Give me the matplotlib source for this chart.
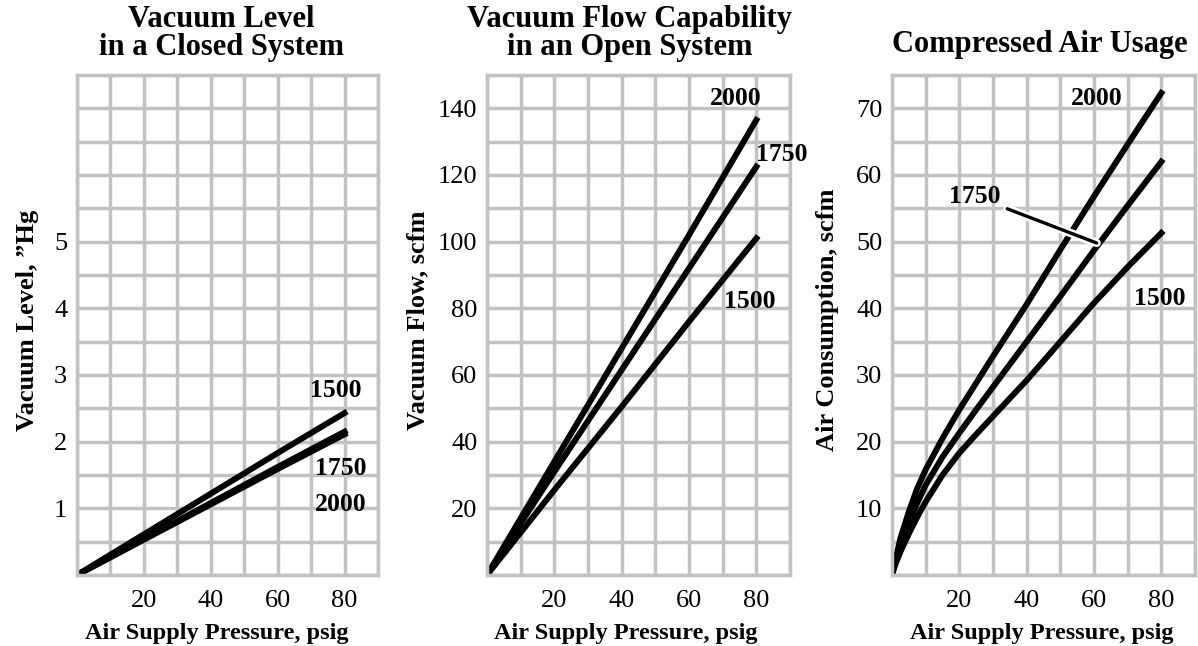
import numpy as np
import matplotlib
matplotlib.use("Agg")
from matplotlib import pyplot as plt
import matplotlib.patheffects as pe

plt.rcParams['font.family'] = ['Liberation Serif', 'DejaVu Serif']

# x values (air supply pressure, psig)
p_lin = [0, 20, 40, 60, 80]
p_curve = [0, 1, 2.5, 5, 7.5, 10, 15, 20, 25, 30, 35, 40, 50, 60, 70, 80]

# closed system vacuum level, "Hg
vac_1500 = [0, 0.61, 1.22, 1.83, 2.43]
vac_1750 = [0, 0.54, 1.08, 1.62, 2.15]
vac_2000 = [0, 0.53, 1.06, 1.59, 2.11]

# open system vacuum flow, scfm
flow_1500 = [0, 25.5, 50.5, 76, 101]
flow_1750 = [0, 31, 61.5, 92, 122.5]
flow_2000 = [0, 34, 68, 102, 136.5]

# compressed air consumption, scfm
air_1500 = [0, 1.6, 3.5, 6.2, 8.7, 11, 15, 18.3, 21.1, 23.8, 26.5, 29.2, 35, 40.8, 46.2, 51.3]
air_1750 = [0, 2.0, 4.6, 7.8, 10.8, 13.5, 17.7, 21.3, 24.8, 28.2, 31.6, 35, 41.8, 48.7, 55.4, 62]
air_2000 = [0, 2.2, 5.5, 9.5, 13, 15.8, 20.5, 24.8, 28.8, 32.8, 36.7, 40.6, 48.8, 56.8, 64.6, 72.3]

x_ticks = [20, 40, 60, 80]
vac_ticks = [1, 2, 3, 4, 5]
flow_ticks = [20, 40, 60, 80, 100, 120, 140]
air_ticks = [10, 20, 30, 40, 50, 60, 70]

W, H = 1198, 646
fig = plt.figure(figsize=(W / 100, H / 100), dpi=100)

grid_col = '#c2c2c2'
tick_fs = 19
lab_fs = 19
xlab_fs = 17.5
curve_fs = 18.5
title_fs = 22


def px_axes(left, right, top=75, bottom=575):
    return fig.add_axes([left / W, 1 - bottom / H, (right - left) / W, (bottom - top) / H])


def setup(ax, ymax, ystep, yticks, ylabel, ylab_x, xlab_x):
    ax.set_xlim(0, 90)
    ax.set_ylim(0, ymax)
    ax.set_xticks(np.arange(0, 91, 10), minor=True)
    ax.set_yticks(np.arange(0, ymax + 0.01, ystep), minor=True)
    ax.set_xticks(x_ticks)
    ax.set_yticks(yticks)
    ax.set_xticklabels([str(v) for v in x_ticks], fontsize=tick_fs)
    ax.set_yticklabels([str(v) for v in yticks], fontsize=tick_fs)
    ax.tick_params(which='both', length=0)
    ax.tick_params(axis='x', pad=11)
    ax.tick_params(axis='y', pad=7)
    ax.grid(True, which='both', color=grid_col, linewidth=2.5)
    ax.set_axisbelow(True)
    for s in ax.spines.values():
        s.set_color(grid_col)
        s.set_linewidth(2.5)
    ax.set_xlabel('Air Supply Pressure, psig', fontsize=xlab_fs, fontweight='bold', va='center')
    ax.xaxis.set_label_coords(xlab_x, -0.116)
    ax.set_ylabel(ylabel, fontsize=lab_fs, fontweight='bold', va='center')
    ax.yaxis.set_label_coords(ylab_x, 0.51)


lw = 4.3

# --- panel 1: closed system ---
ax1 = px_axes(77, 378)
setup(ax1, 7.5, 0.5, vac_ticks, 'Vacuum Level, \u201dHg', -0.165, 0.465)
ax1.plot(p_lin, vac_2000, 'k-', lw=lw)
ax1.plot(p_lin, vac_1750, 'k-', lw=lw)
ax1.plot(p_lin, vac_1500, 'k-', lw=lw)
ax1.text(77.3, 2.77, '1500', fontsize=curve_fs, fontweight='bold', ha='center', va='center')
ax1.text(78.8, 1.59, '1750', fontsize=curve_fs, fontweight='bold', ha='center', va='center')
ax1.text(78.8, 1.05, '2000', fontsize=curve_fs, fontweight='bold', ha='center', va='center')
ax1.text(0.48, 1.083, 'Vacuum Level\nin a Closed System', transform=ax1.transAxes,
         fontsize=title_fs, fontweight='bold', ha='center', va='center', linespacing=0.92)

# --- panel 2: open system ---
ax2 = px_axes(487, 790)
setup(ax2, 150, 10, flow_ticks, 'Vacuum Flow, scfm', -0.228, 0.459)
ax2.plot(p_lin, flow_2000, 'k-', lw=lw)
ax2.plot(p_lin, flow_1750, 'k-', lw=lw)
ax2.plot(p_lin, flow_1500, 'k-', lw=lw)
ax2.text(73.9, 143, '2000', fontsize=curve_fs, fontweight='bold', ha='center', va='center')
ax2.text(87.5, 126, '1750', fontsize=curve_fs, fontweight='bold', ha='center', va='center',
         clip_on=False)
ax2.text(78, 82, '1500', fontsize=curve_fs, fontweight='bold', ha='center', va='center')
ax2.text(0.47, 1.083, 'Vacuum Flow Capability\nin an Open System', transform=ax2.transAxes,
         fontsize=title_fs, fontweight='bold', ha='center', va='center', linespacing=0.92)

# --- panel 3: air usage ---
ax3 = px_axes(892, 1195)
setup(ax3, 75, 5, air_ticks, 'Air Consumption, scfm', -0.212, 0.495)
ax3.plot(p_curve, air_2000, 'k-', lw=lw)
ax3.plot(p_curve, air_1750, 'k-', lw=lw)
ax3.plot(p_curve, air_1500, 'k-', lw=lw)
ax3.text(60.8, 71.5, '2000', fontsize=curve_fs, fontweight='bold', ha='center', va='center')
ax3.text(79.5, 41.5, '1500', fontsize=curve_fs, fontweight='bold', ha='center', va='center')
ann = ax3.annotate('1750', xy=(60.8, 49.8), xytext=(24.6, 56.8),
                   fontsize=curve_fs, fontweight='bold', ha='center', va='center',
                   arrowprops=dict(arrowstyle='-', color='k', lw=2.4, shrinkA=3, shrinkB=0))
ann.arrow_patch.set_path_effects([pe.Stroke(linewidth=6, foreground='white'), pe.Normal()])
ax3.text(0.488, 1.06, 'Compressed Air Usage', transform=ax3.transAxes,
         fontsize=title_fs, fontweight='bold', ha='center', va='center')

plt.savefig('out.png', dpi=100)
